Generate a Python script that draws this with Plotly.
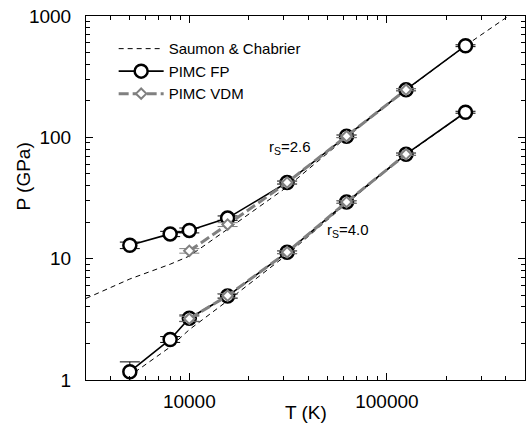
import plotly.graph_objects as go
import numpy as np

# Temperatures (K)
T_fp = [5000, 8000, 10000, 15625, 31250, 62500, 125000, 250000]
T_vdm = [10000, 15625, 31250, 62500, 125000]

# PIMC FP pressures (GPa)
P_fp_26 = [12.9, 16.0, 17.1, 21.6, 42.4, 102, 247, 569]
E_fp_26 = [0.8, 0.8, 0.8, 0.9, 1.2, 2.5, 5, 10]
P_fp_40 = [1.17, 2.16, 3.23, 4.92, 11.3, 29.3, 72.6, 161]
E_fp_40 = [0.24, 0.12, 0.2, 0.2, 0.3, 0.7, 1.6, 3]

# PIMC VDM pressures (GPa)
P_vdm_26 = [11.6, 19.1, 42.4, 102, 247]
E_vdm_26 = [0.5, 0.7, 1.2, 2.5, 5]
P_vdm_40 = [3.2, 4.95, 11.3, 29.3, 72.6]
E_vdm_40 = [0.15, 0.2, 0.3, 0.7, 1.6]

# Saumon & Chabrier
T_sc_26 = [3000, 5000, 8000, 10000, 15625, 31250, 62500, 125000, 250000, 500000]
P_sc_26 = [4.7, 6.8, 9.0, 10.5, 17.5, 39, 100, 245, 570, 1240]
T_sc_40 = [5300, 8000, 10000, 15625, 31250, 62500, 125000, 250000]
P_sc_40 = [1.16, 1.87, 2.6, 4.5, 10.8, 28.5, 72, 160]

FONT = "Liberation Sans, Arial, sans-serif"
GREY = "#808080"

fig = go.Figure()

fig.add_trace(go.Scatter(x=T_sc_26, y=P_sc_26, mode="lines", name="Saumon & Chabrier",
                         line=dict(color="black", width=1, dash="5px,4px")))
fig.add_trace(go.Scatter(x=T_sc_40, y=P_sc_40, mode="lines", showlegend=False,
                         line=dict(color="black", width=1, dash="5px,4px")))

fp_marker = dict(symbol="circle", size=13, color="white", line=dict(width=2.5, color="black"))
fig.add_trace(go.Scatter(x=T_fp, y=P_fp_26, mode="lines+markers", name="PIMC FP",
                         line=dict(color="black", width=1.6), marker=fp_marker,
                         error_y=dict(type="data", array=E_fp_26, color="black", thickness=1, width=10)))
fig.add_trace(go.Scatter(x=T_fp, y=P_fp_40, mode="lines+markers", showlegend=False,
                         line=dict(color="black", width=1.6), marker=fp_marker,
                         error_y=dict(type="data", array=E_fp_40, color="black", thickness=1, width=10)))

vdm_marker = dict(symbol="diamond", size=8, color="white", line=dict(width=2, color=GREY))
fig.add_trace(go.Scatter(x=T_vdm, y=P_vdm_26, mode="lines+markers", name="PIMC VDM",
                         line=dict(color=GREY, width=3, dash="10px,4px"), marker=vdm_marker,
                         error_y=dict(type="data", array=E_vdm_26, color=GREY, thickness=1, width=10)))
fig.add_trace(go.Scatter(x=T_vdm, y=P_vdm_40, mode="lines+markers", showlegend=False,
                         line=dict(color=GREY, width=3, dash="10px,4px"), marker=vdm_marker,
                         error_y=dict(type="data", array=E_vdm_40, color=GREY, thickness=1, width=10)))

fig.add_annotation(x=np.log10(32400), y=np.log10(82), text="r<sub>S</sub>=2.6", showarrow=False,
                   font=dict(family=FONT, size=15, color="black"))
fig.add_annotation(x=np.log10(63500), y=np.log10(17.0), text="r<sub>S</sub>=4.0", showarrow=False,
                   font=dict(family=FONT, size=15, color="black"))
fig.add_annotation(x=0.5, y=0, xref="paper", yref="paper", yanchor="top", yshift=-20,
                   text="T (K)", showarrow=False, font=dict(family=FONT, size=19, color="black"))
fig.add_annotation(x=0, y=0.559, xref="paper", yref="paper", xanchor="center", xshift=-62,
                   text="P (GPa)", textangle=-90, showarrow=False,
                   font=dict(family=FONT, size=19, color="black"))

def minor_vals(lo, hi):
    vals = []
    for d in range(lo, hi):
        for m in range(2, 10):
            vals.append(m * 10 ** d)
    return vals

axis_common = dict(type="log", showgrid=False, zeroline=False, showline=True, linecolor="black",
                   linewidth=1, mirror="ticks", ticks="inside", ticklen=7, tickcolor="black",
                   tickfont=dict(family=FONT, size=19, color="black"))

fig.update_xaxes(**axis_common, range=[np.log10(3000), np.log10(500000)],
                 tickvals=[10000, 100000], ticktext=["10000", "100000"], ticklabelstandoff=4,
                 minor=dict(ticks="inside", ticklen=4, tickcolor="black", tickvals=minor_vals(3, 6)))
fig.update_yaxes(**axis_common, range=[0, 3],
                 tickvals=[1, 10, 100, 1000], ticktext=["1", "10", "100", "1000"], ticklabelstandoff=10,
                 minor=dict(ticks="inside", ticklen=4, tickcolor="black", tickvals=minor_vals(0, 3)))

fig.update_layout(
    width=532, height=424,
    margin=dict(l=86, r=6, t=13, b=44),
    paper_bgcolor="white", plot_bgcolor="white",
    showlegend=True,
    legend=dict(x=0.063, y=0.955, xanchor="left", yanchor="top", bgcolor="rgba(0,0,0,0)",
                font=dict(family=FONT, size=15, color="black"), itemwidth=45,
                tracegroupgap=0),
)

fig.write_html("out.html")
